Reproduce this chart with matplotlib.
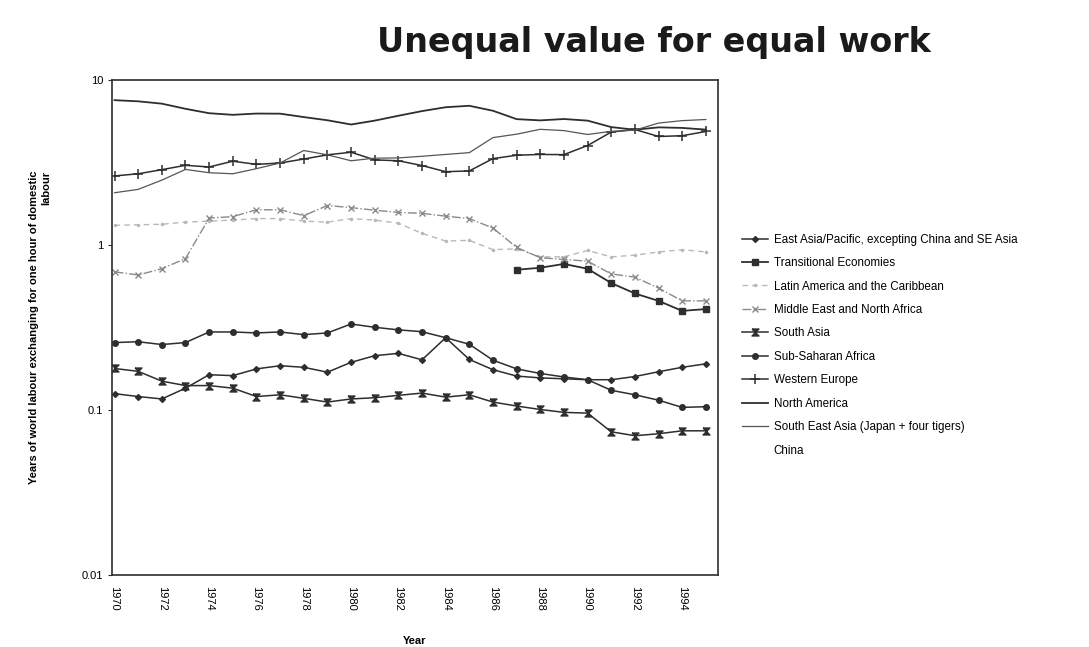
import matplotlib
matplotlib.use("Agg")
import matplotlib.pyplot as plt
from matplotlib.ticker import FixedLocator, NullLocator, FixedFormatter

years = list(range(1970, 1996))
trans_years = list(range(1987, 1996))

east_asia = [0.126, 0.121, 0.117, 0.136, 0.164, 0.162, 0.178, 0.186, 0.182, 0.170,
             0.195, 0.214, 0.221, 0.202, 0.275, 0.203, 0.176, 0.161, 0.157, 0.155,
             0.153, 0.153, 0.160, 0.171, 0.182, 0.191]
transitional = [0.71, 0.73, 0.77, 0.72, 0.59, 0.51, 0.46, 0.40, 0.41]
latin_america = [1.32, 1.33, 1.34, 1.38, 1.40, 1.42, 1.45, 1.45, 1.40, 1.38,
                 1.45, 1.42, 1.36, 1.18, 1.06, 1.07, 0.94, 0.95, 0.85, 0.85,
                 0.93, 0.85, 0.87, 0.91, 0.94, 0.91]
middle_east = [0.69, 0.66, 0.72, 0.83, 1.46, 1.49, 1.64, 1.64, 1.51, 1.74,
               1.69, 1.63, 1.58, 1.56, 1.50, 1.45, 1.27, 0.97, 0.84, 0.82,
               0.80, 0.67, 0.64, 0.55, 0.46, 0.46]
south_asia = [0.179, 0.172, 0.150, 0.141, 0.141, 0.136, 0.121, 0.124, 0.118, 0.112,
              0.117, 0.119, 0.123, 0.127, 0.120, 0.124, 0.112, 0.106, 0.101, 0.097,
              0.096, 0.074, 0.070, 0.072, 0.075, 0.075]
sub_saharan = [0.257, 0.260, 0.250, 0.257, 0.298, 0.298, 0.294, 0.298, 0.287, 0.294,
               0.333, 0.318, 0.307, 0.299, 0.275, 0.251, 0.201, 0.178, 0.167, 0.159,
               0.153, 0.132, 0.124, 0.115, 0.104, 0.105]
western_europe = [2.63, 2.71, 2.87, 3.05, 2.98, 3.23, 3.09, 3.15, 3.33, 3.53,
                  3.66, 3.29, 3.25, 3.04, 2.79, 2.82, 3.35, 3.51, 3.55, 3.54,
                  4.02, 4.85, 5.03, 4.56, 4.61, 4.89]
north_america = [7.57, 7.45, 7.21, 6.71, 6.31, 6.17, 6.28, 6.27, 5.98, 5.72,
                 5.39, 5.69, 6.09, 6.50, 6.86, 7.00, 6.53, 5.81, 5.71, 5.82,
                 5.69, 5.20, 5.01, 5.18, 5.14, 5.02]
se_asia = [2.08, 2.18, 2.48, 2.88, 2.75, 2.71, 2.91, 3.15, 3.75, 3.53,
           3.25, 3.37, 3.38, 3.46, 3.55, 3.64, 4.49, 4.71, 5.04, 4.95,
           4.69, 4.90, 4.98, 5.50, 5.69, 5.78]

tick_years = list(range(1970, 1995, 2))
y_ticks = [0.01, 0.1, 1, 10]
y_tick_labels = ["0.01", "0.1", "1", "10"]

labels = ["East Asia/Pacific, excepting China and SE Asia",
          "Transitional Economies",
          "Latin America and the Caribbean",
          "Middle East and North Africa",
          "South Asia",
          "Sub-Saharan Africa",
          "Western Europe",
          "North America",
          "South East Asia (Japan + four tigers)",
          "China"]

plt.rcParams['font.family'] = ['Liberation Sans', 'DejaVu Sans']

fig = plt.figure(figsize=(10.89, 6.47), dpi=100)
ax = fig.add_axes([0.103, 0.111, 0.556, 0.765])

dark = "#2e2e2e"
hourglass = [(-1, 1), (1, 1), (-1, -1), (1, -1), (-1, 1)]

ax.plot(years, east_asia, color=dark, lw=1.1, marker="D", ms=3, label=labels[0])
ax.plot(trans_years, transitional, color=dark, lw=1.3, marker="s", ms=5, label=labels[1])
ax.plot(years, latin_america, color="#b8b8b8", lw=1.0, ls=(0, (4, 3)), marker=".", ms=3,
        label=labels[2])
ax.plot(years, middle_east, color="#8a8a8a", lw=1.0, ls="-.", marker="x", ms=4,
        label=labels[3])
ax.plot(years, south_asia, color=dark, lw=1.1, marker=hourglass, ms=5, label=labels[4])
ax.plot(years, sub_saharan, color=dark, lw=1.1, marker="o", ms=4, label=labels[5])
ax.plot(years, western_europe, color=dark, lw=1.1, marker="+", ms=7, mew=1.1, label=labels[6])
ax.plot(years, north_america, color=dark, lw=1.3, label=labels[7])
ax.plot(years, se_asia, color="#555555", lw=0.9, label=labels[8])
ax.plot([], [], ls="none", label=labels[9])

ax.set_yscale("log")
ax.set_ylim(0.01, 10)
ax.set_xlim(1969.9, 1995.5)
ax.yaxis.set_major_locator(FixedLocator(y_ticks))
ax.yaxis.set_major_formatter(FixedFormatter(y_tick_labels))
ax.yaxis.set_minor_locator(NullLocator())
ax.set_xticks(tick_years)
ax.set_xticklabels([str(y) for y in tick_years], rotation=270, fontsize=8)
ax.tick_params(axis="y", labelsize=8, length=3, color=dark)
ax.tick_params(axis="x", length=0, pad=8)
for s in ax.spines.values():
    s.set_color(dark)
    s.set_linewidth(1.2)

ax.set_xlabel("Year", fontsize=8, fontweight="bold", labelpad=18)
ax.set_ylabel("Years of world labour exchanging for one hour of domestic\nlabour",
              fontsize=8, fontweight="bold", multialignment="right", labelpad=22)

fig.text(0.60, 0.935, "Unequal value for equal work", fontsize=24, fontweight="bold",
         family="DejaVu Sans", ha="center", va="center", color="#1a1a1a")

fig.legend(loc="upper left", bbox_to_anchor=(0.672, 0.655), frameon=False,
           fontsize=8.4, handlelength=2.2, labelspacing=0.98, handletextpad=0.5)

fig.savefig("out.png", dpi=100, facecolor="white")
